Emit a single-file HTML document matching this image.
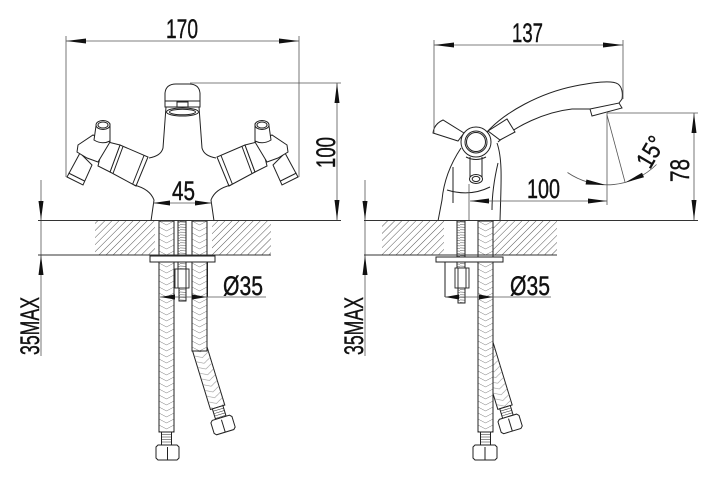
<!DOCTYPE html>
<html><head><meta charset="utf-8">
<style>html,body{margin:0;padding:0;background:#fff;}svg{display:block}
text{font-family:"Liberation Sans",Arial,sans-serif;fill:#111;}</style>
</head>
<body>
<svg width="720" height="481" viewBox="0 0 720 481" xmlns="http://www.w3.org/2000/svg">
<defs>
  <pattern id="hatch" patternUnits="userSpaceOnUse" width="5" height="8" patternTransform="rotate(45)">
    <line x1="0" y1="0" x2="0" y2="8" stroke="#444" stroke-width="0.9"/>
  </pattern>
  <pattern id="braid" patternUnits="userSpaceOnUse" width="15" height="6">
    <path d="M0,0 L7.5,4 L15,0 M0,6 L7.5,10 L15,6" stroke="#777" stroke-width="0.5" fill="none"/>
  </pattern>
  <pattern id="thr" patternUnits="userSpaceOnUse" width="10" height="2.6">
    <line x1="0" y1="0.8" x2="10" y2="1.6" stroke="#555" stroke-width="0.5"/>
  </pattern>
</defs>

<!-- ============ LEFT VIEW ============ -->
<rect x="95" y="221" width="60" height="34" fill="url(#hatch)" stroke="none"/>
<rect x="212" y="221" width="59" height="34" fill="url(#hatch)" stroke="none"/>

<!-- bent hose left view -->
<g transform="translate(199.5,348) rotate(-17)">
  <rect x="-7.5" y="0" width="15" height="62" fill="#fff" stroke="#222" stroke-width="1"/>
  <g transform="translate(-7.5,0)"><rect width="15" height="62" fill="url(#braid)" stroke="none"/></g>
  <rect x="-5.5" y="62" width="11" height="11" fill="#fff" stroke="#222" stroke-width="1"/>
  <path d="M-5.5,64.5 H5.5 M-5.5,67 H5.5 M-5.5,69.5 H5.5 M-5.5,72 H5.5" stroke="#222" stroke-width="0.5" fill="none"/>
  <polygon points="-11,75 -9,73 9,73 11,75 11,86 9,88 -9,88 -11,86" fill="#fff" stroke="#222" stroke-width="1"/>
  <line x1="0" y1="75" x2="0" y2="88" stroke="#222" stroke-width="1"/>
</g>
<g transform="translate(192,221)">
  <rect width="15" height="130" fill="#fff" stroke="#222" stroke-width="1"/>
  <rect width="15" height="130" fill="url(#braid)" stroke="#222" stroke-width="1"/>
</g>
<g transform="translate(159,221)">
  <rect width="15" height="211" fill="#fff" stroke="#222" stroke-width="1"/>
  <rect width="15" height="211" fill="url(#braid)" stroke="#222" stroke-width="1"/>
</g>
<rect x="161.5" y="432" width="10" height="13" fill="#fff" stroke="#222" stroke-width="1"/>
<path d="M161.5,434.5 H171.5 M161.5,437 H171.5 M161.5,439.5 H171.5 M161.5,442 H171.5" stroke="#222" stroke-width="0.5" fill="none"/>
<polygon points="156,447 158,445 177,445 179,447 179,458 177,460 158,460 156,458" fill="#fff" stroke="#222" stroke-width="1"/>
<line x1="167.5" y1="447" x2="167.5" y2="460" stroke="#222" stroke-width="1"/>

<rect x="178" y="221" width="8" height="48" fill="#fff" stroke="#222" stroke-width="0.9"/>
<rect x="178" y="221" width="8" height="48" fill="url(#thr)" stroke="#222" stroke-width="0.9"/>
<rect x="179" y="288" width="7" height="13" fill="#fff" stroke="#222" stroke-width="0.9"/>
<rect x="179" y="288" width="7" height="13" fill="url(#thr)" stroke="#222" stroke-width="0.9"/>
<rect x="175" y="269" width="14" height="19" fill="#fff" stroke="#222" stroke-width="0.9"/>
<line x1="178" y1="269" x2="178" y2="288" stroke="#222" stroke-width="0.9"/>
<line x1="186" y1="269" x2="186" y2="288" stroke="#222" stroke-width="0.9"/>

<rect x="150" y="256" width="65" height="6" fill="#fff" stroke="#222" stroke-width="1"/>
<line x1="159" y1="262" x2="159" y2="297" stroke="#222" stroke-width="1"/>
<line x1="207.5" y1="262" x2="207.5" y2="297" stroke="#222" stroke-width="1"/>

<!-- faucet front: left half -->
<path d="M166,107 L163,148 Q161,156 149,158" fill="none" stroke="#222" stroke-width="1"/>
<polygon points="120,145 148,157 136,186 110,172" fill="#fff" stroke="#222" stroke-width="1"/>
<line x1="144" y1="155.5" x2="132.5" y2="184.5" stroke="#222" stroke-width="1"/>
<line x1="123" y1="146.5" x2="113" y2="173.5" stroke="#222" stroke-width="1"/>
<polygon points="104,141 120,145 110,172 98,166" fill="#fff" stroke="#222" stroke-width="1"/>
<polygon points="80,153 92,165 83,185 67,177" fill="#fff" stroke="#222" stroke-width="1"/>
<line x1="68.5" y1="173" x2="84.5" y2="181" stroke="#222" stroke-width="1"/>
<polygon points="78,145 93,135 110,142 98,162 87,158 77,152" fill="#fff" stroke="#222" stroke-width="1"/>
<path d="M96,126 L94,140 Q102,145 110,141 L110,124 Z" fill="#fff" stroke="#222" stroke-width="1"/>
<ellipse cx="103" cy="125" rx="7" ry="4.5" fill="#fff" stroke="#222" stroke-width="1"/>
<ellipse cx="103" cy="125" rx="5" ry="3" fill="none" stroke="#222" stroke-width="1"/>
<path d="M134,185 Q150,189 154,200 L151,221" fill="none" stroke="#222" stroke-width="1"/>

<!-- faucet front: right half (mirror) -->
<g transform="translate(365,0) scale(-1,1)">
<path d="M166,107 L163,148 Q161,156 149,158" fill="none" stroke="#222" stroke-width="1"/>
<polygon points="120,145 148,157 136,186 110,172" fill="#fff" stroke="#222" stroke-width="1"/>
<line x1="144" y1="155.5" x2="132.5" y2="184.5" stroke="#222" stroke-width="1"/>
<line x1="123" y1="146.5" x2="113" y2="173.5" stroke="#222" stroke-width="1"/>
<polygon points="104,141 120,145 110,172 98,166" fill="#fff" stroke="#222" stroke-width="1"/>
<polygon points="80,153 92,165 83,185 67,177" fill="#fff" stroke="#222" stroke-width="1"/>
<line x1="68.5" y1="173" x2="84.5" y2="181" stroke="#222" stroke-width="1"/>
<polygon points="78,145 93,135 110,142 98,162 87,158 77,152" fill="#fff" stroke="#222" stroke-width="1"/>
<path d="M96,126 L94,140 Q102,145 110,141 L110,124 Z" fill="#fff" stroke="#222" stroke-width="1"/>
<ellipse cx="103" cy="125" rx="7" ry="4.5" fill="#fff" stroke="#222" stroke-width="1"/>
<ellipse cx="103" cy="125" rx="5" ry="3" fill="none" stroke="#222" stroke-width="1"/>
<path d="M134,185 Q150,189 154,200 L151,221" fill="none" stroke="#222" stroke-width="1"/>
</g>
<!-- cap -->
<path d="M165,101 L165,93 Q166,84 176,84 L189,84 Q199,84 200,93 L200,101 Z" fill="#fff" stroke="#222" stroke-width="1"/>
<rect x="165" y="101" width="35" height="6" fill="#fff" stroke="#222" stroke-width="1"/>
<rect x="177" y="102" width="11" height="5" fill="#fff" stroke="#222" stroke-width="1"/>
<ellipse cx="182.5" cy="112" rx="16" ry="4" fill="#fff" stroke="#222" stroke-width="1"/>
<ellipse cx="182.5" cy="112" rx="13" ry="2.8" fill="#fff" stroke="#222" stroke-width="1"/>

<!-- left dims -->
<line x1="66" y1="41" x2="299" y2="41" stroke="#555" stroke-width="0.8"/>
<line x1="66" y1="36" x2="66" y2="177" stroke="#555" stroke-width="0.8"/>
<line x1="299" y1="36" x2="299" y2="177" stroke="#555" stroke-width="0.8"/>
<line x1="190" y1="83" x2="341" y2="83" stroke="#555" stroke-width="0.8"/>
<line x1="337" y1="83" x2="337" y2="220" stroke="#555" stroke-width="0.8"/>
<line x1="41" y1="180" x2="41" y2="356" stroke="#555" stroke-width="0.8"/>
<line x1="153" y1="203" x2="212" y2="203" stroke="#555" stroke-width="0.8"/>
<line x1="160" y1="297" x2="266" y2="297" stroke="#555" stroke-width="0.8"/>
<line x1="38" y1="220.5" x2="341" y2="220.5" stroke="#333" stroke-width="1"/>
<line x1="38" y1="255" x2="271" y2="255" stroke="#333" stroke-width="1"/>

<polygon points="66,41 86,38.5 86,43.5" fill="#111"/>
<polygon points="299,41 279,38.5 279,43.5" fill="#111"/>
<polygon points="337,83 334.5,103 339.5,103" fill="#111"/>
<polygon points="337,220 334.5,200 339.5,200" fill="#111"/>
<polygon points="41,220 38.5,201 43.5,201" fill="#111"/>
<polygon points="41,255 38.5,275 43.5,275" fill="#111"/>
<polygon points="153,203 170,200.5 170,205.5" fill="#111"/>
<polygon points="212,203 195,200.5 195,205.5" fill="#111"/>
<polygon points="160,297 175,294.5 175,299.5" fill="#111"/>
<polygon points="207,297 192,294.5 192,299.5" fill="#111"/>

<text x="166" y="38" font-size="27" fill="#111" stroke="#111" stroke-width="0.4" font-family="Liberation Sans, Arial, sans-serif" textLength="32" lengthAdjust="spacingAndGlyphs">170</text>
<text transform="translate(335,168) rotate(-90)" font-size="27" fill="#111" stroke="#111" stroke-width="0.4" font-family="Liberation Sans, Arial, sans-serif" textLength="31" lengthAdjust="spacingAndGlyphs">100</text>
<text x="172" y="200" font-size="27" fill="#111" stroke="#111" stroke-width="0.4" font-family="Liberation Sans, Arial, sans-serif" textLength="23" lengthAdjust="spacingAndGlyphs">45</text>
<text x="223" y="295" font-size="27" fill="#111" stroke="#111" stroke-width="0.4" font-family="Liberation Sans, Arial, sans-serif" textLength="40" lengthAdjust="spacingAndGlyphs">Ø35</text>
<text transform="translate(39,355) rotate(-90)" font-size="27" fill="#111" stroke="#111" stroke-width="0.4" font-family="Liberation Sans, Arial, sans-serif" textLength="58" lengthAdjust="spacingAndGlyphs">35MAX</text>

<!-- ============ RIGHT VIEW ============ -->
<rect x="382" y="221" width="62" height="34" fill="url(#hatch)" stroke="none"/>
<rect x="493" y="221" width="64" height="34" fill="url(#hatch)" stroke="none"/>

<g transform="translate(486,345) rotate(-17)">
  <rect x="-7.5" y="0" width="15" height="65" fill="#fff" stroke="#222" stroke-width="1"/>
  <g transform="translate(-7.5,0)"><rect width="15" height="65" fill="url(#braid)" stroke="none"/></g>
  <rect x="-5.5" y="65" width="11" height="10" fill="#fff" stroke="#222" stroke-width="1"/>
  <path d="M-5.5,67.5 H5.5 M-5.5,70 H5.5 M-5.5,72.5 H5.5" stroke="#222" stroke-width="0.5" fill="none"/>
  <polygon points="-11,77 -9,75 9,75 11,77 11,88 9,90 -9,90 -11,88" fill="#fff" stroke="#222" stroke-width="1"/>
  <line x1="0" y1="77" x2="0" y2="90" stroke="#222" stroke-width="1"/>
</g>
<g transform="translate(478,221)">
  <rect width="15" height="211" fill="#fff" stroke="#222" stroke-width="1"/>
  <rect width="15" height="211" fill="url(#braid)" stroke="#222" stroke-width="1"/>
</g>
<rect x="480.5" y="432" width="10" height="13" fill="#fff" stroke="#222" stroke-width="1"/>
<path d="M480.5,434.5 H490.5 M480.5,437 H490.5 M480.5,439.5 H490.5 M480.5,442 H490.5" stroke="#222" stroke-width="0.5" fill="none"/>
<polygon points="473,447 475,445 495,445 497,447 497,458 495,460 475,460 473,458" fill="#fff" stroke="#222" stroke-width="1"/>
<line x1="485" y1="447" x2="485" y2="460" stroke="#222" stroke-width="1"/>

<rect x="457" y="221" width="8" height="47" fill="#fff" stroke="#222" stroke-width="0.9"/>
<rect x="457" y="221" width="8" height="47" fill="url(#thr)" stroke="#222" stroke-width="0.9"/>
<rect x="458" y="288" width="7" height="15" fill="#fff" stroke="#222" stroke-width="0.9"/>
<rect x="458" y="288" width="7" height="15" fill="url(#thr)" stroke="#222" stroke-width="0.9"/>
<rect x="455" y="268" width="14" height="20" fill="#fff" stroke="#222" stroke-width="0.9"/>
<line x1="458" y1="268" x2="458" y2="288" stroke="#222" stroke-width="0.9"/>
<line x1="466" y1="268" x2="466" y2="288" stroke="#222" stroke-width="0.9"/>

<rect x="436" y="257" width="67" height="5" fill="#fff" stroke="#222" stroke-width="1"/>
<line x1="445" y1="262" x2="445" y2="297" stroke="#222" stroke-width="1"/>

<!-- faucet side -->
<path d="M487,132 C505,112 540,93 575,86 C595,82 612,80 618,84 C622,87 623,93 622,99 L619,103" fill="none" stroke="#222" stroke-width="1"/>
<path d="M498,142 C515,126 545,112 572,109 L590,109" fill="none" stroke="#222" stroke-width="1"/>
<polygon points="590,109 619,103 622,108 592,116" fill="#fff" stroke="#222" stroke-width="1"/>
<polygon points="488,131 507,119 515,132 500,140" fill="#fff" stroke="#222" stroke-width="1"/>
<path d="M464,133 L443,120 Q434,124 433,133 L458,141 Z" fill="#fff" stroke="#222" stroke-width="1"/>
<path d="M461,148 C453,160 444,178 442,200 L438,221" fill="none" stroke="#222" stroke-width="1"/>
<path d="M497,143 C503,160 501,185 500,221" fill="none" stroke="#222" stroke-width="1"/>
<path d="M453,167 L453,203" fill="none" stroke="#222" stroke-width="1"/>
<path d="M498,163 C494,180 492,195 492,210" fill="none" stroke="#222" stroke-width="1"/>
<path d="M447,190 Q470,197 490,187" fill="none" stroke="#222" stroke-width="1"/>
<circle cx="476" cy="142" r="15" fill="#fff" stroke="#222" stroke-width="1"/>
<circle cx="476" cy="142" r="11" fill="none" stroke="#222" stroke-width="1"/>
<circle cx="476" cy="142" r="9.5" fill="none" stroke="#222" stroke-width="1"/>
<path d="M470,157 L470,178 M482,157 L482,178" fill="none" stroke="#222" stroke-width="1"/>
<path d="M466,157 Q476,162 486,157" fill="none" stroke="#222" stroke-width="1"/>
<ellipse cx="476" cy="179" rx="6.5" ry="4.5" fill="#fff" stroke="#222" stroke-width="1"/>
<ellipse cx="476" cy="179" rx="3.8" ry="2.6" fill="none" stroke="#222" stroke-width="1"/>

<!-- right dims -->
<line x1="434" y1="45" x2="623" y2="45" stroke="#555" stroke-width="0.8"/>
<line x1="434" y1="40" x2="434" y2="133" stroke="#555" stroke-width="0.8"/>
<line x1="623" y1="40" x2="623" y2="99" stroke="#555" stroke-width="0.8"/>
<line x1="607" y1="113" x2="698" y2="113" stroke="#555" stroke-width="0.8"/>
<line x1="694" y1="113" x2="694" y2="220" stroke="#555" stroke-width="0.8"/>
<line x1="365" y1="180" x2="365" y2="356" stroke="#555" stroke-width="0.8"/>
<line x1="470" y1="201" x2="607" y2="201" stroke="#555" stroke-width="0.8"/>
<line x1="469" y1="184" x2="469" y2="221" stroke="#555" stroke-width="0.8"/>
<line x1="607" y1="113" x2="607" y2="205" stroke="#555" stroke-width="0.8"/>
<line x1="607" y1="115" x2="625" y2="182" stroke="#555" stroke-width="0.8"/>
<path d="M567.5,172.5 A70,70 0 0 0 656.5,164.5" fill="none" stroke="#555" stroke-width="0.8"/>
<line x1="445" y1="297" x2="551" y2="297" stroke="#555" stroke-width="0.8"/>
<line x1="364" y1="220.5" x2="698" y2="220.5" stroke="#333" stroke-width="1"/>
<line x1="364" y1="255" x2="557" y2="255" stroke="#333" stroke-width="1"/>

<polygon points="434,45 454,42.5 454,47.5" fill="#111"/>
<polygon points="623,45 603,42.5 603,47.5" fill="#111"/>
<polygon points="694,113 691.5,133 696.5,133" fill="#111"/>
<polygon points="694,220 691.5,200 696.5,200" fill="#111"/>
<polygon points="365,220 362.5,201 367.5,201" fill="#111"/>
<polygon points="365,255 362.5,275 367.5,275" fill="#111"/>
<polygon points="470,201 489,198.5 489,203.5" fill="#111"/>
<polygon points="607,201 588,198.5 588,203.5" fill="#111"/>
<polygon points="445,297 459,294.5 459,299.5" fill="#111"/>
<polygon points="493,297 479,294.5 479,299.5" fill="#111"/>
<polygon points="606,185 586.4,179.5 585.6,184.5" fill="#111"/>
<polygon points="625,182.6 644,177.3 642,172.7" fill="#111"/>

<text x="512" y="42" font-size="27" fill="#111" stroke="#111" stroke-width="0.4" font-family="Liberation Sans, Arial, sans-serif" textLength="31" lengthAdjust="spacingAndGlyphs">137</text>
<text x="527" y="198" font-size="27" fill="#111" stroke="#111" stroke-width="0.4" font-family="Liberation Sans, Arial, sans-serif" textLength="33" lengthAdjust="spacingAndGlyphs">100</text>
<text transform="translate(689,182) rotate(-90)" font-size="27" fill="#111" stroke="#111" stroke-width="0.4" font-family="Liberation Sans, Arial, sans-serif" textLength="23" lengthAdjust="spacingAndGlyphs">78</text>
<text transform="translate(650,170) rotate(-60)" font-size="25" fill="#111" stroke="#111" stroke-width="0.4" font-family="Liberation Sans, Arial, sans-serif" textLength="32" lengthAdjust="spacingAndGlyphs">15°</text>
<text x="510" y="295" font-size="27" fill="#111" stroke="#111" stroke-width="0.4" font-family="Liberation Sans, Arial, sans-serif" textLength="40" lengthAdjust="spacingAndGlyphs">Ø35</text>
<text transform="translate(363,355) rotate(-90)" font-size="27" fill="#111" stroke="#111" stroke-width="0.4" font-family="Liberation Sans, Arial, sans-serif" textLength="58" lengthAdjust="spacingAndGlyphs">35MAX</text>
</svg>
</body></html>
